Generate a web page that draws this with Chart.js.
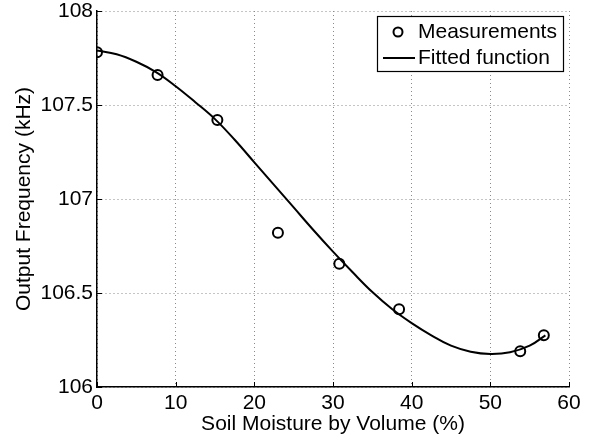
<!DOCTYPE html>
<html>
<head>
<meta charset="utf-8">
<script src="https://cdn.jsdelivr.net/npm/chart.js@4.4.1/dist/chart.umd.min.js"></script>
<style>
  html, body { margin: 0; padding: 0; background: #fff; }
  #wrap { width: 593px; height: 443px; position: relative; }
</style>
</head>
<body>
<div id="wrap"><canvas id="c" width="593" height="443"></canvas></div>
<script>
// Measured points
const measX = [0, 7.7, 15.3, 23.0, 30.8, 38.4, 53.8, 56.8];
const measY = [107.78, 107.66, 107.42, 106.82, 106.655, 106.413, 106.19, 106.275];

// Fitted function
const fitX = [0, 2.5, 5, 7.5, 10, 12.5, 15, 17.5, 20, 22.5, 25, 27.5, 30, 32.5, 35, 37.5, 40, 42.5, 45, 47.5, 50, 52.5, 55, 57];
const fitY = [107.79, 107.77, 107.73, 107.675, 107.60, 107.515, 107.425, 107.315, 107.195, 107.075, 106.955, 106.835, 106.72, 106.61, 106.505, 106.415, 106.34, 106.275, 106.22, 106.188, 106.176, 106.185, 106.22, 106.275];

const xTicks = [0, 10, 20, 30, 40, 50, 60];
const yTicks = [106, 106.5, 107, 107.5, 108];

const labels = ['Measurements', 'Fitted function'];
const xTitle = 'Soil Moisture by Volume (%)';
const yTitle = 'Output Frequency (kHz)';

const FONT = 'Liberation Sans, Arial, Helvetica, sans-serif';
const FS = 21;

const innerTicks = {
  id: 'innerTicks',
  afterDraw(chart) {
    const ctx = chart.ctx;
    const xs = chart.scales.x, ys = chart.scales.y;
    const a = chart.chartArea;
    ctx.save();
    ctx.strokeStyle = '#000';
    ctx.lineWidth = 1;
    xTicks.forEach(v => {
      const px = Math.round(xs.getPixelForValue(v)) + 0.5;
      ctx.beginPath(); ctx.moveTo(px, a.bottom); ctx.lineTo(px, a.bottom - 5); ctx.stroke();
    });
    yTicks.forEach(v => {
      const py = Math.round(ys.getPixelForValue(v)) + 0.5;
      ctx.beginPath(); ctx.moveTo(a.left, py); ctx.lineTo(a.left + 5, py); ctx.stroke();
    });
    ctx.restore();
  }
};

const boxLegend = {
  id: 'boxLegend',
  afterDraw(chart) {
    const ctx = chart.ctx;
    const L = 377, T = 16, R = 563, B = 71;
    ctx.save();
    ctx.fillStyle = '#fff';
    ctx.fillRect(L, T, R - L, B - T);
    ctx.strokeStyle = '#000';
    ctx.lineWidth = 1.2;
    ctx.strokeRect(L + 0.5, T + 0.5, R - L, B - T);
    ctx.lineWidth = 2;
    ctx.beginPath(); ctx.arc(398, 32, 4.5, 0, Math.PI * 2); ctx.stroke();
    ctx.beginPath(); ctx.moveTo(383, 58); ctx.lineTo(415, 58); ctx.stroke();
    ctx.fillStyle = '#000';
    ctx.font = FS + 'px ' + FONT;
    ctx.textBaseline = 'middle';
    ctx.textAlign = 'left';
    ctx.fillText(chart.data.datasets[0].label, 418, 32);
    ctx.fillText(chart.data.datasets[1].label, 418, 58);
    ctx.restore();
  }
};

new Chart(document.getElementById('c'), {
  type: 'scatter',
  data: {
    datasets: [
      {
        label: labels[0],
        data: measX.map((x, i) => ({ x, y: measY[i] })),
        showLine: false,
        pointStyle: 'circle',
        pointRadius: 5,
        pointBorderWidth: 2,
        pointBorderColor: '#000',
        pointBackgroundColor: 'rgba(0,0,0,0)',
        order: 1
      },
      {
        label: labels[1],
        data: fitX.map((x, i) => ({ x, y: fitY[i] })),
        showLine: true,
        borderColor: '#000',
        borderWidth: 2,
        pointRadius: 0,
        tension: 0.4,
        fill: false,
        order: 2
      }
    ]
  },
  options: {
    responsive: false,
    animation: false,
    events: [],
    layout: { padding: { left: 0, top: 11, right: 24, bottom: 0 } },
    plugins: { legend: { display: false }, tooltip: { enabled: false } },
    scales: {
      x: {
        type: 'linear', min: 0, max: 60,
        afterBuildTicks: s => { s.ticks = xTicks.map(v => ({ value: v })); },
        afterFit: s => { s.height = 56; s.paddingLeft = 0; s.paddingRight = 0; },
        grid: { color: '#8a8a8a', lineWidth: 1, drawTicks: false },
        border: { display: true, color: '#000', width: 1.5, dash: [1, 3] },
        ticks: { color: '#000', font: { family: FONT, size: FS }, padding: 4, maxRotation: 0 },
        title: { display: true, text: xTitle, color: '#000', font: { family: FONT, size: FS }, padding: { top: 0, bottom: 6 } }
      },
      y: {
        type: 'linear', min: 106, max: 108,
        afterBuildTicks: s => { s.ticks = yTicks.map(v => ({ value: v })); },
        afterFit: s => { s.width = 97; s.paddingTop = 0; s.paddingBottom = 0; },
        grid: { color: '#8a8a8a', lineWidth: 1, drawTicks: false },
        border: { display: true, color: '#000', width: 1.5, dash: [1, 3] },
        ticks: { color: '#000', font: { family: FONT, size: FS }, padding: 4, callback: v => String(v) },
        title: { display: true, text: yTitle, color: '#000', font: { family: FONT, size: FS }, padding: { top: 12, bottom: 0 } }
      }
    }
  },
  plugins: [innerTicks, boxLegend]
});
</script>
</body>
</html>
